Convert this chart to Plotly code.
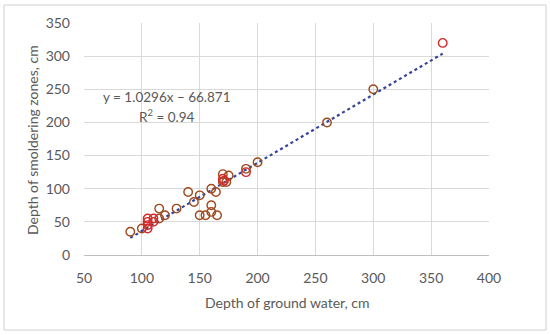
import plotly.graph_objects as go

# Brown-edged observation points
x_brown = [90, 100, 115, 115, 120, 130, 140, 145, 150, 150, 155, 160, 160, 160, 164, 165, 170, 170, 173, 175, 190, 200, 260, 300]
y_brown = [35, 40, 55, 70, 60, 70, 95, 80, 90, 60, 60, 75, 65, 100, 95, 60, 122, 110, 110, 120, 130, 140, 200, 250]

# Red-edged observation points
x_red = [105, 105, 105, 105, 110, 110, 170, 171, 190, 360]
y_red = [40, 45, 50, 55, 50, 55, 115, 112, 125, 320]

slope = 1.0296
intercept = -66.871
trend_x = [90, 360]
trend_y = [slope * v + intercept for v in trend_x]

x_ticks = [50, 100, 150, 200, 250, 300, 350, 400]
y_ticks = [0, 50, 100, 150, 200, 250, 300, 350]

font_family = "Lato, 'Open Sans', sans-serif"
gray = "#595959"

L, R, T, B = 84, 61, 23, 80
W, H = 550, 335
pw, ph = W - L - R, H - T - B


def px(x):
    return (x - L) / pw


def py(y):
    return (H - B - y) / ph


fig = go.Figure()
fig.add_trace(go.Scatter(
    x=trend_x, y=trend_y, mode="lines",
    line=dict(color="#34449A", width=2.2, dash="dot"),
    hoverinfo="skip", showlegend=False))
fig.add_trace(go.Scatter(
    x=x_brown, y=y_brown, mode="markers",
    marker=dict(symbol="circle-open", size=8.5, color="#9E4A1E", line=dict(width=1.4)),
    showlegend=False))
fig.add_trace(go.Scatter(
    x=x_red, y=y_red, mode="markers",
    marker=dict(symbol="circle-open", size=8.5, color="#D42A2A", line=dict(width=1.4)),
    showlegend=False))

fig.add_annotation(x=px(167), y=py(97), xref="paper", yref="paper",
                   xanchor="center", yanchor="middle",
                   text="y = 1.0296x − 66.871", showarrow=False,
                   font=dict(family=font_family, size=13.5, color=gray))
fig.add_annotation(x=px(167), y=py(116), xref="paper", yref="paper",
                   xanchor="center", yanchor="middle",
                   text="R<sup>2</sup> = 0.94", showarrow=False,
                   font=dict(family=font_family, size=13.5, color=gray))
# axis titles
fig.add_annotation(x=px(287), y=py(302), xref="paper", yref="paper",
                   xanchor="center", yanchor="middle",
                   text="Depth of ground water, cm", showarrow=False,
                   font=dict(family=font_family, size=14, color=gray))
fig.add_annotation(x=px(32), y=py(140), xref="paper", yref="paper",
                   xanchor="center", yanchor="middle", textangle=-90,
                   text="Depth of smoldering zones, cm", showarrow=False,
                   font=dict(family=font_family, size=14, color=gray))

# outer chart border
fig.add_shape(type="rect", xref="paper", yref="paper",
              x0=px(4), x1=px(546), y0=py(330), y1=py(5),
              line=dict(color="#CFCFCF", width=1), fillcolor="rgba(0,0,0,0)")

fig.update_xaxes(range=[50, 400], tickvals=x_ticks, showgrid=True, gridcolor="#D9D9D9",
                 gridwidth=1, zeroline=False, showline=True, linecolor="#BFBFBF",
                 ticks="", automargin=False, ticklabelstandoff=10,
                 tickfont=dict(family=font_family, size=14, color=gray))
fig.update_yaxes(range=[0, 350], tickvals=y_ticks, showgrid=True, gridcolor="#D9D9D9",
                 gridwidth=1, zeroline=False, showline=False,
                 ticks="", automargin=False, ticklabelstandoff=13,
                 tickfont=dict(family=font_family, size=14, color=gray))

fig.update_layout(width=W, height=H, margin=dict(l=L, r=R, t=T, b=B, autoexpand=False),
                  plot_bgcolor="white", paper_bgcolor="white")

fig.write_html("out.html", config={"displayModeBar": False},
               post_script="document.body.style.margin='0';")
